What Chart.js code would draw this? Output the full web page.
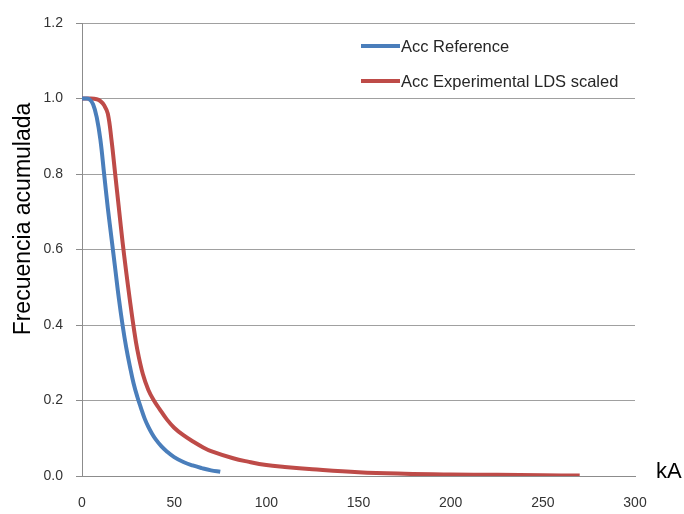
<!DOCTYPE html>
<html>
<head>
<meta charset="utf-8">
<script src="https://cdn.jsdelivr.net/npm/chart.js"></script>
<style>
  html, body { margin: 0; padding: 0; background: #fff; }
  #wrap { width: 684px; height: 514px; }
</style>
</head>
<body>
<div id="wrap"><canvas id="myChart"></canvas></div>
<script>
// values
const refX = [0, 2, 4, 6, 8, 10, 12, 14, 16, 18, 20, 22, 24, 26, 28, 30, 32, 34, 36, 38, 40, 43, 46, 50, 55, 60, 65, 70, 75];
const refY = [1.0, 1.0, 0.998, 0.985, 0.95, 0.89, 0.8, 0.71, 0.63, 0.55, 0.47, 0.4, 0.34, 0.29, 0.245, 0.21, 0.18, 0.152, 0.13, 0.112, 0.097, 0.079, 0.065, 0.05, 0.037, 0.028, 0.021, 0.015, 0.011];

const expX = [0, 4, 8, 10, 12, 14, 16, 18, 20, 22, 24, 26, 28, 30, 33, 36, 39, 42, 46, 50, 55, 60, 66, 70, 82, 90, 100, 110, 125, 150, 175, 200, 225, 250, 270];
const expY = [1.0, 1.0, 0.998, 0.993, 0.982, 0.96, 0.89, 0.8, 0.71, 0.62, 0.54, 0.465, 0.395, 0.335, 0.27, 0.228, 0.2, 0.178, 0.15, 0.128, 0.108, 0.092, 0.075, 0.066, 0.047, 0.038, 0.029, 0.024, 0.018, 0.01, 0.006, 0.004, 0.003, 0.002, 0.001];

const seriesNames = ['Acc Reference', 'Acc Experimental LDS scaled'];
const seriesColors = ['#4A7EBB', '#BE4B48'];
const xTitle = 'kA';
const yTitle = 'Frecuencia acumulada';

const toPts = (xs, ys) => xs.map((x, i) => ({x: x, y: ys[i]}));

const tickFont = {family: 'Liberation Sans, Arial, sans-serif', size: 14};

// legend inside the plot plus the axis titles, placed like the spreadsheet ones
const extras = {
  id: 'extras',
  afterDraw(chart) {
    const ctx = chart.ctx;
    ctx.save();
    ctx.font = '16.5px "Liberation Sans", Arial, sans-serif';
    ctx.textBaseline = 'middle';
    ctx.fillStyle = '#262626';
    const rows = [46, 81];
    chart.data.datasets.forEach((ds, i) => {
      ctx.strokeStyle = ds.borderColor;
      ctx.lineWidth = 4;
      ctx.beginPath();
      ctx.moveTo(361, rows[i]);
      ctx.lineTo(400, rows[i]);
      ctx.stroke();
      ctx.fillText(ds.label, 401, rows[i] + 1);
    });
    ctx.font = '22px "Liberation Sans", Arial, sans-serif';
    ctx.fillStyle = '#000';
    ctx.fillText(xTitle, 656, chart.chartArea.bottom - 4);
    ctx.translate(24, 219);
    ctx.rotate(-Math.PI / 2);
    ctx.textAlign = 'center';
    ctx.font = '23px "Liberation Sans", Arial, sans-serif';
    ctx.fillText(yTitle, 0, 0);
    ctx.restore();
  }
};

const ctx = document.getElementById('myChart');
new Chart(ctx, {
  type: 'scatter',
  data: {
    datasets: [{
      label: seriesNames[0],
      data: toPts(refX, refY),
      borderColor: seriesColors[0],
      backgroundColor: seriesColors[0],
      showLine: true,
      borderWidth: 4,
      pointRadius: 0,
      tension: 0.4
    }, {
      label: seriesNames[1],
      data: toPts(expX, expY),
      borderColor: seriesColors[1],
      backgroundColor: seriesColors[1],
      showLine: true,
      borderWidth: 4,
      pointRadius: 0,
      tension: 0.4
    }]
  },
  options: {
    responsive: true,
    maintainAspectRatio: false,
    animation: false,
    layout: { padding: {top: 23, right: 49, bottom: 0, left: 0} },
    plugins: {
      legend: { display: false },
      tooltip: { enabled: false }
    },
    scales: {
      x: {
        type: 'linear',
        min: 0, max: 300,
        ticks: { stepSize: 50, font: tickFont, color: '#333', padding: 13 },
        grid: { display: false, drawOnChartArea: false, tickLength: 6, tickColor: '#8c8c8c' },
        border: { color: '#8c8c8c', width: 1 },
        afterFit: s => { s.height = 38; }
      },
      y: {
        min: 0, max: 1.2,
        ticks: { stepSize: 0.2, font: tickFont, color: '#333', padding: 13,
                 callback: v => v.toFixed(1) },
        grid: { color: '#a0a0a0', tickLength: 6, tickColor: '#8c8c8c' },
        border: { color: '#8c8c8c', width: 1 },
        afterFit: s => { s.width = 82; }
      }
    }
  },
  plugins: [extras]
});
</script>
</body>
</html>
